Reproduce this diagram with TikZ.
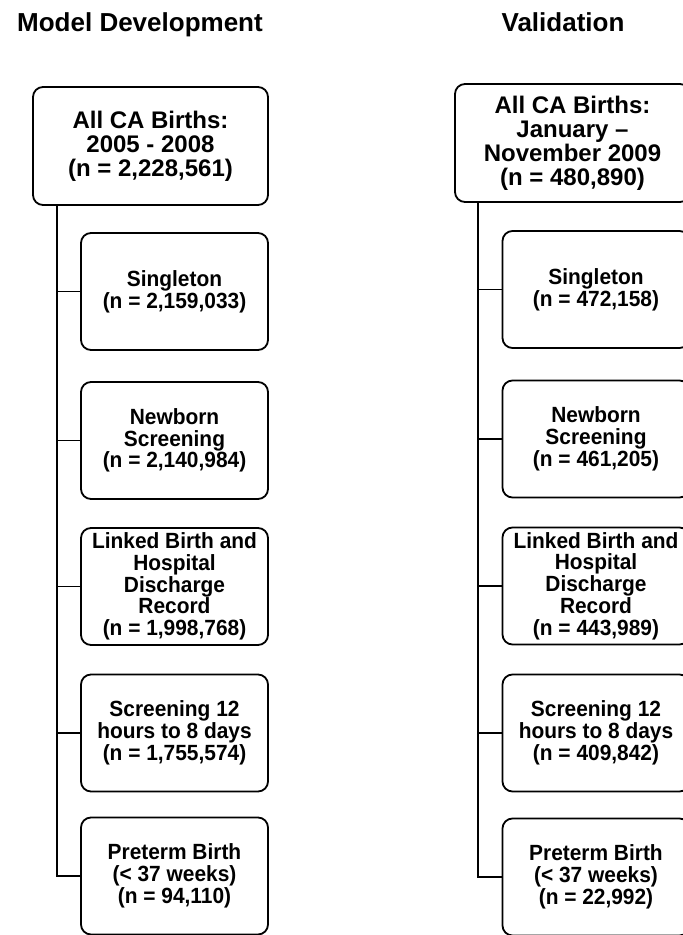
\documentclass[tikz,border=0pt]{standalone}
\usepackage{fontspec}
\setmainfont{Liberation Sans}
\newfontfamily\boxfont[FakeStretch=0.95]{Liberation Sans}

\tikzset{
  stepbox/.style={draw, line width=1.8pt, rounded corners=10pt, align=center, inner sep=0pt,
    minimum width=187pt, minimum height=117pt, font=\boxfont\bfseries\fontsize{22}{21.8}\selectfont},
  rootbox/.style={stepbox, minimum width=235pt, minimum height=118pt,
    font=\bfseries\fontsize{24}{24}\selectfont},
  heading/.style={anchor=base, font=\bfseries\fontsize{26}{30}\selectfont},
  branch/.style={line width=1.6pt}
}

\begin{document}
\begin{tikzpicture}[x=1pt,y=-1pt]
\useasboundingbox (0,0) rectangle (683,935);

\node[heading] (devtitle) at (140,31) {Model Development};
\node[heading] (valtitle) at (563,31) {Validation};

% model development
\node[rootbox] (dev-all) at (150.5,146) {All CA Births:\\2005 - 2008\\(n = 2,228,561)};
\node[stepbox] (dev-single) at (174.5,291.5) {Singleton\\(n = 2,159,033)};
\node[stepbox] (dev-screen) at (174.5,440.5) {Newborn\\Screening\\(n = 2,140,984)};
\node[stepbox] (dev-linked) at (174.5,586.5) {Linked Birth and\\Hospital\\Discharge\\Record\\(n = 1,998,768)};
\node[stepbox] (dev-timing) at (174.5,733) {Screening 12\\hours to 8 days\\(n = 1,755,574)};
\node[stepbox] (dev-preterm) at (174.5,876) {Preterm Birth\\(< 37 weeks)\\(n = 94,110)};

% validation
\node[rootbox] (val-all) at (572.5,143) {All CA Births:\\January –\\November 2009\\(n = 480,890)};
\node[stepbox] (val-single) at (596,289.5) {Singleton\\(n = 472,158)};
\node[stepbox] (val-screen) at (596,439) {Newborn\\Screening\\(n = 461,205)};
\node[stepbox] (val-linked) at (596,586) {Linked Birth and\\Hospital\\Discharge\\Record\\(n = 443,989)};
\node[stepbox] (val-timing) at (596,733) {Screening 12\\hours to 8 days\\(n = 409,842)};
\node[stepbox] (val-preterm) at (596,877) {Preterm Birth\\(< 37 weeks)\\(n = 22,992)};

\coordinate (dev-trunk) at ([xshift=25pt]dev-all.south west);
\coordinate (val-trunk) at ([xshift=24pt]val-all.south west);

\draw[branch] (dev-trunk) |- (dev-preterm.west);
\draw[branch] (dev-single.west) -- (dev-single.west -| dev-trunk);
\draw[branch] (dev-screen.west) -- (dev-screen.west -| dev-trunk);
\draw[branch] (dev-linked.west) -- (dev-linked.west -| dev-trunk);
\draw[branch] (dev-timing.west) -- (dev-timing.west -| dev-trunk);

\draw[branch] (val-trunk) |- (val-preterm.west);
\draw[branch] (val-single.west) -- (val-single.west -| val-trunk);
\draw[branch] (val-screen.west) -- (val-screen.west -| val-trunk);
\draw[branch] (val-linked.west) -- (val-linked.west -| val-trunk);
\draw[branch] (val-timing.west) -- (val-timing.west -| val-trunk);
\end{tikzpicture}
\end{document}
